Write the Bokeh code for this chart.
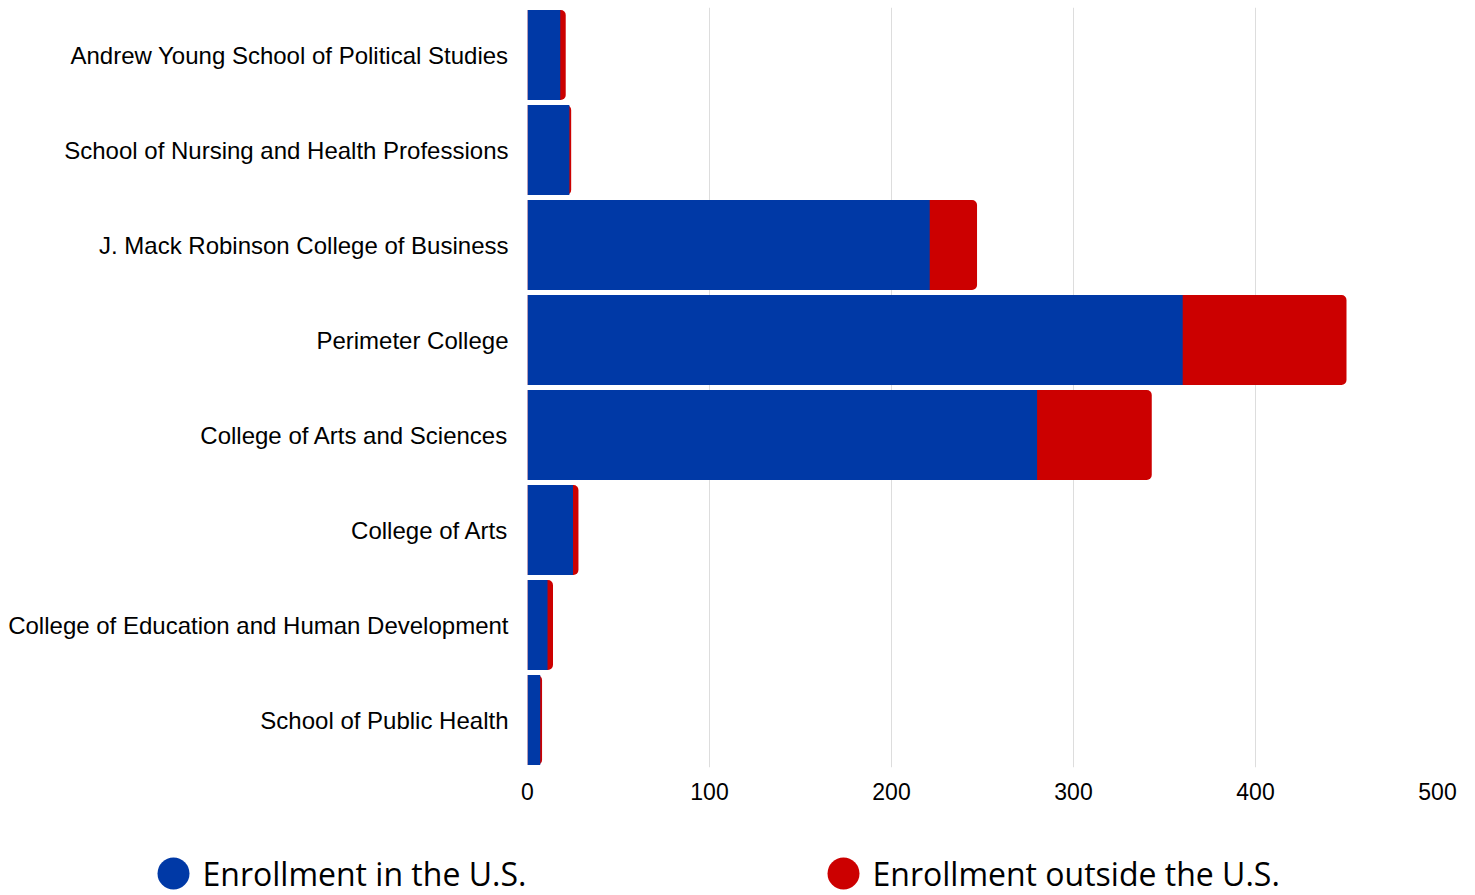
from bokeh.plotting import figure
from bokeh.models import ColumnDataSource, FactorRange
from bokeh.layouts import column
from bokeh.core.properties import value
from bokeh.embed import file_html
from bokeh.resources import INLINE

categories = [
    "Andrew Young School of Political Studies",
    "School of Nursing and Health Professions",
    "J. Mack Robinson College of Business",
    "Perimeter College",
    "College of Arts and Sciences",
    "College of Arts",
    "College of Education and Human Development",
    "School of Public Health",
]
us_enrollment = [18, 23, 221, 360, 280, 25, 11, 7]
outside_enrollment = [3, 1, 26, 90, 63, 3, 3, 1]
x_ticks = [0, 100, 200, 300, 400, 500]
series_names = ["Enrollment in the U.S.", "Enrollment outside the U.S."]

BLUE = "#0039a6"
RED = "#cc0000"
series_colors = [BLUE, RED]

totals = [a + b for a, b in zip(us_enrollment, outside_enrollment)]
src = ColumnDataSource(dict(cat=categories, us=us_enrollment, out=outside_enrollment, total=totals))

W, H = 1459, 820
p = figure(
    width=W, height=H,
    y_range=FactorRange(factors=list(reversed(categories)), range_padding=0),
    x_range=(0, 500),
    output_backend="svg", toolbar_location=None,
    min_border_left=527, min_border_right=22, min_border_top=7, min_border_bottom=H - 767,
)
p.frame_align = False
p.outline_line_color = None

p.hbar(y="cat", left=0, right="total", height=0.947, source=src,
       fill_color=RED, line_color=None, border_radius=(0, 5, 5, 0))
p.hbar(y="cat", left=0, right="us", height=0.947, source=src,
       fill_color=BLUE, line_color=None)

p.xaxis.ticker = x_ticks
p.xaxis.axis_line_color = None
p.xaxis.major_tick_line_color = None
p.xaxis.minor_tick_line_color = None
p.xaxis.major_label_text_font = "Liberation Sans"
p.xaxis.major_label_text_font_size = "23px"
p.xaxis.major_label_text_color = "#000000"
p.xaxis.major_label_standoff = 9

p.yaxis.axis_line_color = None
p.yaxis.major_tick_line_color = None
p.yaxis.minor_tick_line_color = None
p.yaxis.major_label_text_font = "Liberation Sans"
p.yaxis.major_label_text_font_size = "24px"
p.yaxis.major_label_text_color = "#000000"
p.yaxis.major_label_standoff = 13

p.xgrid.grid_line_color = "#dddddd"
p.ygrid.grid_line_color = None

# legend as its own small figure below the chart (page-pixel coordinates)
LH = 75
lg = figure(width=W, height=LH, x_range=(0, W), y_range=(LH, 0),
            output_backend="svg", toolbar_location=None, min_border=0)
lg.frame_align = False
lg.axis.visible = False
lg.grid.grid_line_color = None
lg.outline_line_color = None
leg_src = ColumnDataSource(dict(
    x=[173, 843], tx=[202, 872], y=[53, 53], name=series_names, color=series_colors))
lg.scatter(x="x", y="y", source=leg_src, marker="circle", size=32,
           fill_color="color", line_color=None)
lg.text(x="tx", y="y", source=leg_src, text="name", text_baseline="middle",
        text_font=value("Open Sans"), text_font_size="32px", text_color="#000000")

layout = column(p, lg, spacing=0)
open("out.html", "w").write(file_html(layout, INLINE))
